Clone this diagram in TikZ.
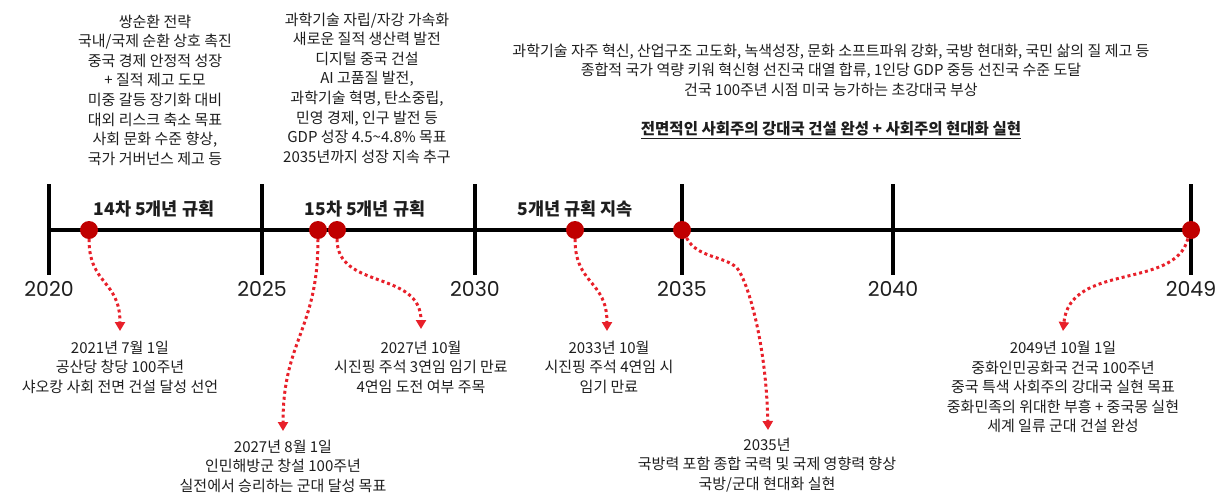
\documentclass[tikz,border=0pt]{standalone}
\usepackage{fontspec}
\setmainfont{Noto Sans CJK KR}
\newfontfamily\pop{Poppins}
\usetikzlibrary{arrows.meta}
\definecolor{ink}{HTML}{1E1E1E}
\definecolor{dotred}{HTML}{C00000}
\definecolor{linkred}{HTML}{E8202A}
\begin{document}
\begin{tikzpicture}[x=1pt,y=-1pt,
  axis/.style={line width=4pt, draw=black},
  evt/.style={circle, fill=dotred, minimum size=18pt, inner sep=0pt},
  link/.style={draw=linkred, line width=3pt, dash pattern=on 3pt off 3pt, -{Triangle[width=10pt,length=9pt]}},
  txt/.style={align=center, text=ink, inner sep=0pt, font=\fontsize{15}{19.6}\selectfont},
  yr/.style={text=ink, inner sep=0pt, font=\pop\fontsize{20.5}{24}\selectfont},
  per/.style={text=ink, inner sep=0pt, font=\bfseries\fontsize{17.5}{20}\selectfont}]
\useasboundingbox[fill=white] (0,0) rectangle (1226,496);

% top texts
\node[txt] (top1) at (155,90) {쌍순환 전략\\국내/국제 순환 상호 촉진\\중국 경제 안정적 성장\\+ 질적 제고 도모\\미중 갈등 장기화 대비\\대외 리스크 축소 목표\\사회 문화 수준 향상,\\국가 거버넌스 제고 등};
\node[txt] (top2) at (367,88) {과학기술 자립/자강 가속화\\새로운 질적 생산력 발전\\디지털 중국 건설\\AI 고품질 발전,\\과학기술 혁명, 탄소중립,\\민영 경제, 인구 발전 등\\GDP 성장 4.5\textasciitilde4.8\% 목표\\2035년까지 성장 지속 추구};
\node[txt] (top3) at (831,70) {과학기술 자주 혁신, 산업구조 고도화, 녹색성장, 문화 소프트파워 강화, 국방 현대화, 국민 삶의 질 제고 등\\종합적 국가 역량 키워 혁신형 선진국 대열 합류, 1인당 GDP 중등 선진국 수준 도달\\건국 100주년 시점 미국 능가하는 초강대국 부상};
\node[txt, font=\bfseries\fontsize{15.5}{19.6}\selectfont] (goal) at (831,130) {\underline{전면적인 사회주의 강대국 건설 완성 + 사회주의 현대화 실현}};

% period labels
\node[per] (p14) at (154,209) {14차 5개년 규획};
\node[per] (p15) at (365,209) {15차 5개년 규획};
\node[per] (pcont) at (575,209) {5개년 규획 지속};

% axis
\draw[axis] (49,230) -- (1191,230);
\foreach \x in {49,262,475,682,893,1191} {\draw[axis] (\x,184) -- (\x,275);}

% year labels
\node[yr] (y2020) at (49,289) {2020};
\node[yr] (y2025) at (262,289) {2025};
\node[yr] (y2030) at (475,289) {2030};
\node[yr] (y2035) at (682,289) {2035};
\node[yr] (y2040) at (893,289) {2040};
\node[yr] (y2049) at (1191,289) {2049};

% event dots
\node[evt] (d2021) at (89,230) {};
\node[evt] (d2027a) at (318,230) {};
\node[evt] (d2027b) at (337,230) {};
\node[evt] (d2033) at (575,230) {};
\node[evt] (d2035) at (682,230) {};
\node[evt] (d2049) at (1191,230) {};

% bottom texts
\node[txt] (t2021) at (120,367) {2021년 7월 1일\\공산당 창당 100주년\\샤오캉 사회 전면 건설 달성 선언};
\node[txt] (t2027a) at (283,466) {2027년 8월 1일\\인민해방군 창설 100주년\\실전에서 승리하는 군대 달성 목표};
\node[txt] (t2027b) at (421,367) {2027년 10월\\시진핑 주석 3연임 임기 만료\\4연임 도전 여부 주목};
\node[txt] (t2033) at (609,367) {2033년 10월\\시진핑 주석 4연임 시\\임기 만료};
\node[txt] (t2035) at (767,465) {2035년\\국방력 포함 종합 국력 및 국제 영향력 향상\\국방/군대 현대화 실현};
\node[txt] (t2049) at (1063,387) {2049년 10월 1일\\중화인민공화국 건국 100주년\\중국 특색 사회주의 강대국 실현 목표\\중화민족의 위대한 부흥 + 중국몽 실현\\세계 일류 군대 건설 완성};

% arrow ends
\coordinate (e2021) at (120,331);
\coordinate (e2027a) at (283,431);
\coordinate (e2027b) at (421,329);
\coordinate (e2033) at (607,331);
\coordinate (e2035) at (768,430);
\coordinate (e2049) at (1063,331);

% connectors
\draw[link] (d2021.south) .. controls (89,285) and (120,280) .. (e2021);
\draw[link] (d2027a.south) .. controls (318,330) and (283,340) .. (e2027a);
\draw[link] (d2027b.south) .. controls (337,290) and (421,270) .. (e2027b);
\draw[link] (d2033.south) .. controls (575,285) and (607,280) .. (e2033);
\draw[link] (d2035.-60) .. controls (697,258) and (725,256) .. (737,268) .. controls (747,280) and (766,340) .. (e2035);
\draw[link] (d2049.-110) .. controls (1175,290) and (1070,262) .. (e2049);
\end{tikzpicture}
\end{document}
